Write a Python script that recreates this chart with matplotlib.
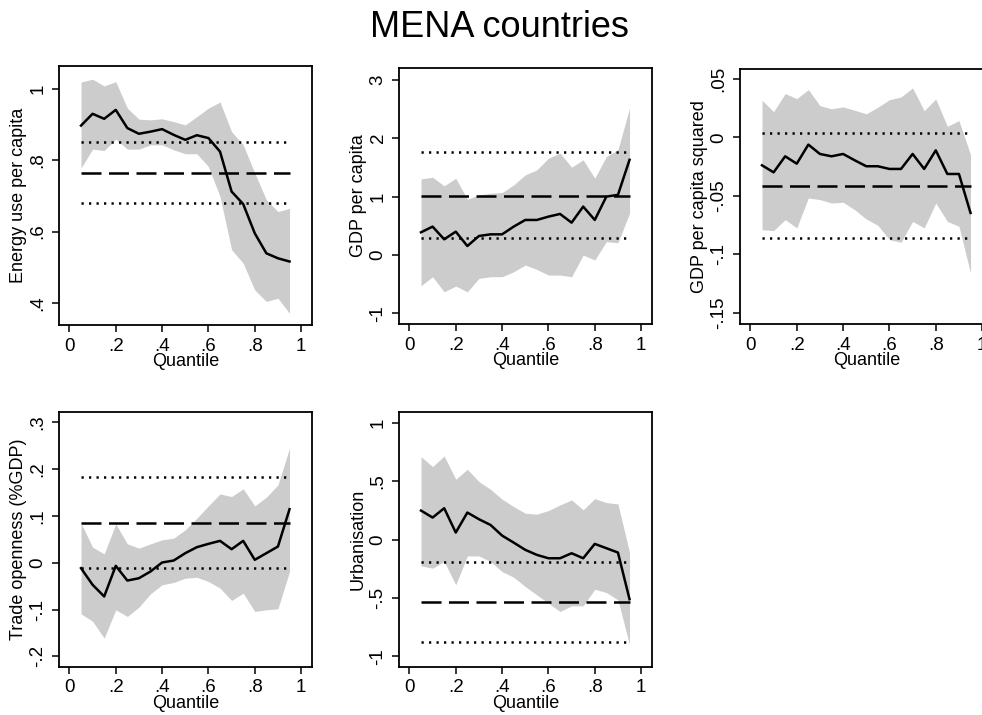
import numpy as np
import matplotlib.pyplot as plt

plt.rcParams['font.family'] = ['Liberation Sans', 'DejaVu Sans']

# quantiles estimated
quantiles = [0.05, 0.10, 0.15, 0.20, 0.25, 0.30, 0.35, 0.40, 0.45, 0.50,
             0.55, 0.60, 0.65, 0.70, 0.75, 0.80, 0.85, 0.90, 0.95]

# Energy use per capita
energy_coef = [0.897, 0.930, 0.916, 0.941, 0.890, 0.874, 0.880, 0.887, 0.871, 0.857,
               0.870, 0.862, 0.824, 0.712, 0.677, 0.595, 0.539, 0.525, 0.516]
energy_hi = [1.019, 1.027, 1.008, 1.020, 0.946, 0.915, 0.913, 0.916, 0.908, 0.899,
             0.922, 0.946, 0.963, 0.880, 0.843, 0.764, 0.689, 0.656, 0.665]
energy_lo = [0.778, 0.831, 0.827, 0.859, 0.831, 0.831, 0.843, 0.843, 0.829, 0.818,
             0.818, 0.782, 0.698, 0.549, 0.511, 0.436, 0.404, 0.413, 0.371]
energy_ols = [0.765, 0.679, 0.852]

# GDP per capita
gdp_coef = [0.389, 0.486, 0.269, 0.400, 0.154, 0.326, 0.354, 0.354, 0.486, 0.600,
            0.600, 0.657, 0.703, 0.554, 0.829, 0.600, 1.000, 1.029, 1.629]
gdp_hi = [1.303, 1.331, 1.183, 1.314, 0.954, 1.029, 1.057, 1.069, 1.200, 1.371,
          1.457, 1.657, 1.743, 1.503, 1.629, 1.314, 1.686, 1.800, 2.514]
gdp_lo = [-0.526, -0.371, -0.629, -0.531, -0.629, -0.400, -0.371, -0.371, -0.286, -0.171,
          -0.246, -0.343, -0.343, -0.371, 0.000, -0.086, 0.229, 0.211, 0.714]
gdp_ols = [1.017, 0.286, 1.771]

# GDP per capita squared
gdp2_coef = [-0.0238, -0.0298, -0.0161, -0.0224, -0.0061, -0.0141, -0.0161, -0.0141, -0.0195, -0.0246,
             -0.0246, -0.0269, -0.0269, -0.0141, -0.0269, -0.0110, -0.0312, -0.0312, -0.0645]
gdp2_hi = [0.0318, 0.0221, 0.0375, 0.0332, 0.0409, 0.0272, 0.0245, 0.0261, 0.0232, 0.0202,
           0.0258, 0.0323, 0.0346, 0.0423, 0.0229, 0.0329, 0.0095, 0.0144, -0.0147]
gdp2_lo = [-0.0788, -0.0796, -0.0702, -0.0773, -0.0517, -0.0531, -0.0560, -0.0554, -0.0617, -0.0697,
           -0.0751, -0.0873, -0.0896, -0.0717, -0.0773, -0.0560, -0.0717, -0.0759, -0.1158]
gdp2_ols = [-0.0412, -0.0859, 0.0038]

# Trade openness
trade_coef = [-0.0115, -0.047, -0.072, -0.0065, -0.038, -0.033, -0.0186, 0.0006, 0.0048, 0.0205,
              0.0333, 0.0404, 0.0468, 0.029, 0.0468, 0.0063, 0.0205, 0.0347, 0.1144]
trade_hi = [0.0845, 0.0333, 0.019, 0.083, 0.0404, 0.0312, 0.0404, 0.0489, 0.0525, 0.0703,
            0.0952, 0.1215, 0.147, 0.1414, 0.1578, 0.1215, 0.140, 0.1663, 0.2445]
trade_lo = [-0.109, -0.125, -0.161, -0.1005, -0.1147, -0.0947, -0.0663, -0.047, -0.0421, -0.033,
            -0.031, -0.040, -0.054, -0.0805, -0.065, -0.104, -0.1005, -0.0983, -0.0186]
trade_ols = [0.0859, -0.0115, 0.1826]

# Urbanisation
urb_coef = [0.248, 0.188, 0.268, 0.060, 0.231, 0.174, 0.125, 0.034, -0.026, -0.088,
            -0.131, -0.160, -0.160, -0.117, -0.160, -0.037, -0.074, -0.111, -0.510]
urb_hi = [0.709, 0.624, 0.715, 0.516, 0.601, 0.496, 0.430, 0.345, 0.282, 0.225,
          0.217, 0.248, 0.296, 0.339, 0.254, 0.350, 0.316, 0.305, -0.111]
urb_lo = [-0.225, -0.245, -0.188, -0.387, -0.140, -0.140, -0.188, -0.274, -0.322, -0.402,
          -0.473, -0.544, -0.615, -0.567, -0.567, -0.425, -0.453, -0.516, -0.900]
urb_ols = [-0.533, -0.880, -0.188]

x_ticks = [0, 0.2, 0.4, 0.6, 0.8, 1]
x_ticklabels = ['0', '.2', '.4', '.6', '.8', '1']

panels = [
    ('Energy use per capita', energy_coef, energy_lo, energy_hi, energy_ols,
     [0.4, 0.6, 0.8, 1.0], ['.4', '.6', '.8', '1'], (0.338, 1.064)),
    ('GDP per capita', gdp_coef, gdp_lo, gdp_hi, gdp_ols,
     [-1, 0, 1, 2, 3], ['-1', '0', '1', '2', '3'], (-1.18, 3.2)),
    ('GDP per capita squared', gdp2_coef, gdp2_lo, gdp2_hi, gdp2_ols,
     [-0.15, -0.1, -0.05, 0, 0.05], ['-.15', '-.1', '-.05', '0', '.05'], (-0.1594, 0.0585)),
    ('Trade openness (%GDP)', trade_coef, trade_lo, trade_hi, trade_ols,
     [-0.2, -0.1, 0, 0.1, 0.2, 0.3], ['-.2', '-.1', '0', '.1', '.2', '.3'], (-0.2226, 0.322)),
    ('Urbanisation', urb_coef, urb_lo, urb_hi, urb_ols,
     [-1, -0.5, 0, 0.5, 1], ['-1', '-.5', '0', '.5', '1'], (-1.09, 1.091)),
]

W, H = 982, 715
# axes boxes in pixels: left, top, right, bottom
boxes = [(59, 66, 312, 325), (399, 68, 652, 324), (740, 69, 993, 324),
         (59, 412, 312, 667), (399, 412, 652, 667)]

fig = plt.figure(figsize=(W / 100, H / 100), dpi=100)
fig.text(0.509, 1 - 37 / H, 'MENA countries', ha='center', va='baseline', fontsize=26)

for (label, coef, lo, hi, ols, yt, ytl, ylim), (l, t, r, b) in zip(panels, boxes):
    ax = fig.add_axes([l / W, 1 - b / H, (r - l) / W, (b - t) / H])
    ax.fill_between(quantiles, lo, hi, color='#cccccc', linewidth=0)
    ax.plot([quantiles[0], quantiles[-1]], [ols[0], ols[0]], color='black',
            lw=1.8, dashes=(8, 3))
    for v in ols[1:]:
        ax.plot([quantiles[0], quantiles[-1]], [v, v], color='black',
                lw=1.8, dashes=(0.9, 2.1))
    ax.plot(quantiles, coef, color='black', lw=1.8)
    ax.set_xlim(-0.045, 1.047)
    ax.set_ylim(*ylim)
    ax.set_xticks(x_ticks)
    ax.set_xticklabels(x_ticklabels)
    ax.set_yticks(yt)
    ax.set_yticklabels(ytl, rotation=90, va='center')
    ax.tick_params(direction='out', length=5, width=1.1, labelsize=13.5, pad=4)
    ax.set_xlabel('Quantile', fontsize=13, labelpad=-1)
    ax.set_ylabel(label, fontsize=13, labelpad=2)
    for s in ax.spines.values():
        s.set_linewidth(1.3)

fig.savefig('out.png', dpi=100)
